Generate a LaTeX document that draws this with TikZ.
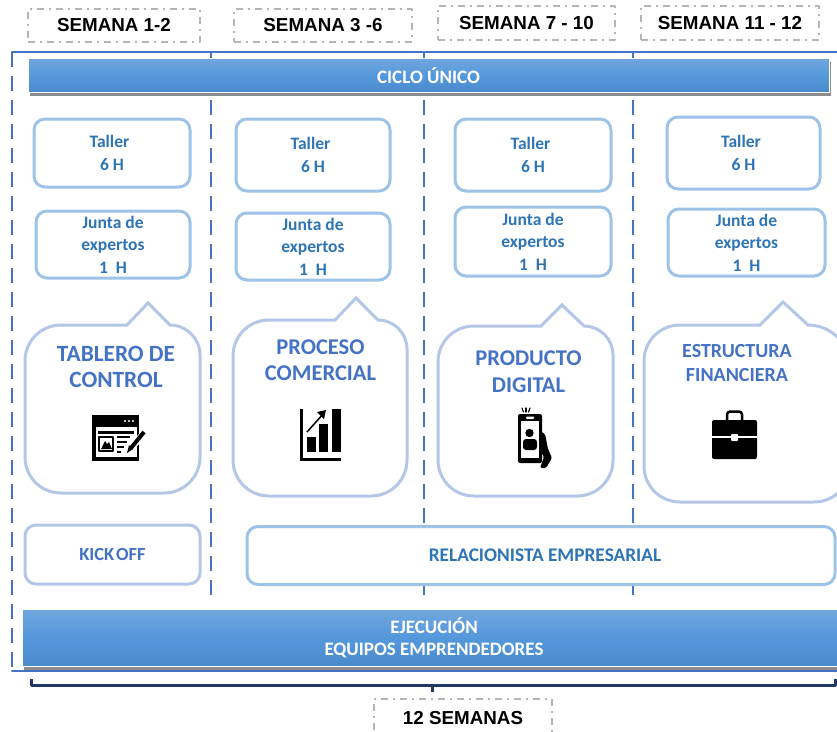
\documentclass[tikz,border=0pt]{standalone}
\usepackage{fontspec}
\usepackage{xcolor}
\usetikzlibrary{shadows}
\setmainfont{Carlito}
\newfontfamily\arialfont{Liberation Sans}
\definecolor{marco}{HTML}{4472C4}
\definecolor{cajaclara}{HTML}{9DC3E6}
\definecolor{globoclaro}{HTML}{B4C7E7}
\definecolor{textoazul}{HTML}{2E75B6}
\definecolor{llaveazul}{HTML}{1F3864}
\definecolor{grisguion}{HTML}{B5B5B5}
\definecolor{bandaalta}{HTML}{70A6DD}
\definecolor{bandamedia}{HTML}{5498DC}
\definecolor{bandabaja}{HTML}{4A8ACB}
\tikzset{
  semana/.style={draw=grisguion,line width=1.5pt,line cap=butt,dash pattern=on 7pt off 5pt on 2pt off 5pt,inner sep=0pt,
    font=\arialfont\bfseries\fontsize{18.8}{22}\selectfont},
  caja/.style={draw=cajaclara,line width=3pt,fill=white,rounded corners=11pt,inner sep=0pt,align=center,
    text=textoazul,font=\bfseries\fontsize{17.5}{22.5}\selectfont},
  globo/.style={draw=globoclaro,line width=3pt,line join=miter},
  titulo/.style={align=center,inner sep=0pt,text=marco,font=\bfseries\fontsize{22.5}{26.5}\selectfont},
  banda/.style={draw=white,line width=1pt,inner sep=0pt,align=center,text=white,
    top color=bandaalta,bottom color=bandabaja,middle color=bandamedia,
    font=\bfseries\fontsize{19}{22}\selectfont,drop shadow={shadow xshift=1.5pt,shadow yshift=-3pt,fill=black,opacity=.45}},
  guion/.style={color=marco,line width=2pt,line cap=butt,dash pattern=on 15pt off 9pt},
  llave/.style={color=llaveazul,line width=3pt,line cap=butt}
}
\begin{document}
\begin{tikzpicture}[line cap=round,line join=round,x=1pt,y=-1pt]
    \useasboundingbox (0,0) rectangle (837,731);
    \clip (0,0) rectangle (837,731);
    % marco y divisiones
    \coordinate (marcoA) at (12,52);
    \coordinate (marcoB) at (12,671);
    \coordinate (marcoC) at (840,671);
    \coordinate (marcoD) at (840,52);
    \draw[guion] (marcoA) -- (marcoB);
    \draw[color=marco,line width=2pt] (marcoB) -- (marcoC);
    \draw[color=marco,line width=2pt] (marcoA) -- (marcoD);
    \foreach \x/\nom in {211/a,424/b,633/c}{
      \coordinate (div\nom) at (\x,52);
      \coordinate (fin\nom) at (\x,601);
      \draw[guion] (div\nom) -- (fin\nom);
    }
    % semanas
    \foreach \nom/\cx/\cy/\w/\h/\txt in {sem1/114/25.5/172/33/{SEMANA 1-2},sem2/323/25.5/178/33/{SEMANA 3 -6},
      sem3/526.5/23/177/34/{SEMANA 7 - 10},sem4/730/23/178/34/{SEMANA 11 - 12},sem5/463/718/178/38/{12 SEMANAS}}
    \node[semana,minimum width=\w pt,minimum height=\h pt] (\nom) at (\cx,\cy) {\txt};
    % bandas
    \node[banda,minimum width=801pt,minimum height=34pt] (ciclo) at (428.5,75.5) {CICLO ÚNICO};
    \node[banda,minimum width=824pt,minimum height=57pt] (ejecucion) at (434,638) {EJECUCIÓN\\EQUIPOS EMPRENDEDORES};
    % talleres y juntas
    \foreach \nom/\cx/\cy/\w/\h in {taller1/112/153/156/68,taller2/313/155/154/72,taller3/533/155/156/72,taller4/743.5/153/153/72}
    \node[caja,minimum width=\w pt,minimum height=\h pt] (\nom) at (\cx,\cy) {Taller\hspace*{5pt}\\6 H};
    \foreach \nom/\cx/\cy/\w/\h in {junta1/113/244.5/154/67,junta2/313/246.5/154/67,junta3/533/241.5/156/69,junta4/746.5/242.5/157/67}
    \node[caja,minimum width=\w pt,minimum height=\h pt] (\nom) at (\cx,\cy) {Junta de\\expertos\\1~~H};
    % globos
    \foreach \xa/\xb/\ya/\yb/\ba/\bb/\tx/\ty in {25/200/325/493/127/170/148/303,233/407/320/496/335/378/356/298,
      438/613/326/496/541/584/562/305,644/850/325/502/760/808/783/302}
    \draw[globo] (\ba,\ya) -- (\tx,\ty) -- (\bb,\ya)
      .. controls ({\bb+.55*(\xb-\bb)},\ya) and (\xb,{\ya+.45*(\xb-\bb)}) .. (\xb,{\ya+\xb-\bb})
      -- (\xb,{\yb-36}) .. controls (\xb,{\yb-16}) and ({\xb-16},\yb) .. ({\xb-36},\yb)
      -- ({\xa+36},\yb) .. controls ({\xa+16},\yb) and (\xa,{\yb-16}) .. (\xa,{\yb-36})
      -- (\xa,{\ya+36}) .. controls (\xa,{\ya+16}) and ({\xa+16},\ya) .. ({\xa+36},\ya) -- cycle;
    \node[titulo,font=\bfseries\fontsize{23.3}{26.5}\selectfont] (tablero) at (116,367) {TABLERO DE\\CONTROL};
    \node[titulo] (proceso) at (320.5,360) {PROCESO\\COMERCIAL};
    \node[titulo] (producto) at (528.5,371.5) {PRODUCTO\\DIGITAL};
    \node[titulo,font=\bfseries\fontsize{20}{24}\selectfont] (estructura) at (737,363) {ESTRUCTURA\\FINANCIERA};
    % icono tablero
    \fill (92,415) rectangle (139,461);
    \fill[white] (96,427) rectangle (137,457);
    \foreach \x in {125,129,133} \fill[white] (\x,421) circle (1.1pt);
    \fill (98,431) rectangle (134,434);
    \draw[line width=1.5pt,line cap=butt] (99,437) rectangle (113,451);
    \fill (101,449) -- (105,441) -- (107,444) -- (109,442) -- (112,449) -- cycle;
    \foreach \y/\xe in {437/130,442/127,447/124,452/121} \draw[line width=2pt,line cap=butt] (117,\y) -- (\xe,\y);
    \draw[white,line width=6.5pt,line cap=butt] (129,451) -- (143,434);
    \draw[line width=4pt,line cap=butt] (131,448) -- (144,432);
    \fill (127,453) -- (129,445) -- (133,449) -- cycle;
    % icono grafica
    \fill (300,409) rectangle (303,461);
    \fill (300,458) rectangle (341,461);
    \fill (307,437) rectangle (316,452);
    \fill (319,424) rectangle (328,452);
    \fill (332,409) rectangle (341,452);
    \draw[line width=1.5pt,line cap=butt] (307,432) -- (324,413);
    \fill (326,410) -- (317,412) -- (324,419) -- cycle;
    % icono telefono
    \fill[rounded corners=2pt] (518,414) rectangle (542,463);
    \fill[white] (521,421) rectangle (539,458);
    \fill[white,rounded corners=1pt] (526,416.5) rectangle (534,419);
    \fill (529.5,433) circle (4.2pt);
    \fill[rounded corners=3pt] (523,450) -- (523,439) -- (537,439) -- (537,450) -- cycle;
    \fill[rounded corners=1.5pt] (540,431) -- (545,434) -- (548,449) -- (552,458) -- (546,468) -- (540,468) -- (544,457) -- (540,450) -- cycle;
    \foreach \xs/\xe in {522/523.5,526/526,530/528.5} \draw[line width=1.1pt] (\xs,408) -- (\xe,412);
    % icono maletin
    \draw[line width=2.5pt,rounded corners=3pt] (727,420) -- (727,411.5) -- (742,411.5) -- (742,420);
    \fill[rounded corners=2pt] (712,420) rectangle (757,459);
    \fill[white] (712,435.5) rectangle (757,437.5);
    \fill[white,rounded corners=1pt] (731,434) rectangle (738,441);
    % cajas inferiores
    \node[caja,draw=globoclaro,text=marco,minimum width=175pt,minimum height=59pt,font=\bfseries\fontsize{18.5}{20}\selectfont] (kickoff) at (112.5,554.5) {KICK\hspace{2pt}OFF};
    \node[caja,minimum width=588pt,minimum height=58pt,font=\bfseries\fontsize{19.3}{20}\selectfont] (relacionista) at (541,555.5) {\hspace*{8pt}RELACIONISTA EMPRESARIAL};
    % llave
    \coordinate (llaveA) at (31,679);
    \coordinate (llaveB) at (31,685);
    \coordinate (llaveC) at (835,685);
    \coordinate (llaveD) at (835,679);
    \coordinate (llaveM) at (432,685);
    \coordinate (llaveN) at (432,692);
    \draw[llave] (llaveA) -- (llaveB) -- (llaveC) -- (llaveD);
    \draw[llave] (llaveM) -- (llaveN);
\end{tikzpicture}
\end{document}
